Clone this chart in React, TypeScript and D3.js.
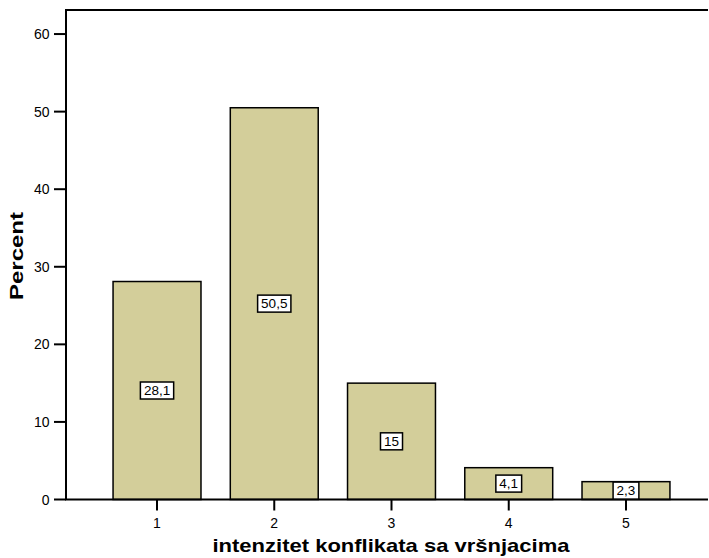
import React, { useEffect, useRef } from "react";
import * as d3 from "d3";

const categories = ["1", "2", "3", "4", "5"];
const values = [28.1, 50.5, 15, 4.1, 2.3];
const valueLabels = ["28,1", "50,5", "15", "4,1", "2,3"];
const yTicks = [0, 10, 20, 30, 40, 50, 60];

const W = 709;
const H = 558;

export default function App() {
  const ref = useRef<SVGSVGElement | null>(null);

  useEffect(() => {
    const svg = d3.select(ref.current);
    svg.selectAll("*").remove();
    const left = 66, right = 708, top = 10, bottom = 499.5;
    const font = "Liberation Sans, Arial, sans-serif";

    const y = d3.scaleLinear().domain([0, 63.1]).range([bottom, top]);
    const x = d3.scaleBand<string>().domain(categories).range([98.4, 684.6]).paddingInner(0.25).paddingOuter(0.125);

    // bars
    svg.selectAll("rect.bar").data(values).enter().append("rect")
      .attr("x", (_, i) => x(categories[i])!)
      .attr("y", d => y(d))
      .attr("width", x.bandwidth())
      .attr("height", d => bottom - y(d))
      .attr("fill", "#d3ce9a")
      .attr("stroke", "#000")
      .attr("stroke-width", 1.5);

    // frame
    svg.append("path")
      .attr("d", `M${right},${top}H${left}V${bottom}H${right}`)
      .attr("fill", "none").attr("stroke", "#000").attr("stroke-width", 2);

    // y ticks
    const yt = svg.append("g");
    yTicks.forEach(t => {
      yt.append("line").attr("x1", 54).attr("x2", left).attr("y1", y(t)).attr("y2", y(t))
        .attr("stroke", "#000").attr("stroke-width", 2);
      yt.append("text").attr("x", 49.5).attr("y", y(t)).attr("dy", "0.36em")
        .attr("text-anchor", "end").attr("font-family", font).attr("font-size", 14).text(String(t));
    });

    // x ticks
    categories.forEach(c => {
      const cx = x(c)! + x.bandwidth() / 2;
      svg.append("line").attr("x1", cx).attr("x2", cx).attr("y1", bottom).attr("y2", bottom + 11)
        .attr("stroke", "#000").attr("stroke-width", 2);
      svg.append("text").attr("x", cx).attr("y", bottom + 28.5).attr("text-anchor", "middle")
        .attr("font-family", font).attr("font-size", 14).text(c);
    });

    // value labels
    values.forEach((v, i) => {
      const cx = x(categories[i])! + x.bandwidth() / 2;
      const cy = y(v / 2);
      const g = svg.append("g");
      const txt = g.append("text").attr("x", cx).attr("y", cy).attr("dy", "0.36em")
        .attr("text-anchor", "middle").attr("font-family", font).attr("font-size", 13.5).text(valueLabels[i]);
      const bb = (txt.node() as SVGTextElement).getBBox();
      g.insert("rect", "text")
        .attr("x", cx - bb.width / 2 - 3.5).attr("y", cy - 8.5)
        .attr("width", bb.width + 7).attr("height", 17)
        .attr("fill", "#fff").attr("stroke", "#000").attr("stroke-width", 1.5);
    });

    // axis titles
    svg.append("text").attr("x", 391).attr("y", 551.5).attr("text-anchor", "middle")
      .attr("font-family", font).attr("font-weight", "bold").attr("font-size", 19)
      .attr("textLength", 357).attr("lengthAdjust", "spacingAndGlyphs")
      .text("intenzitet konflikata sa vršnjacima");
    svg.append("text").attr("transform", `translate(23,256) rotate(-90)`).attr("text-anchor", "middle")
      .attr("font-family", font).attr("font-weight", "bold").attr("font-size", 19)
      .attr("textLength", 88).attr("lengthAdjust", "spacingAndGlyphs")
      .text("Percent");
  }, []);

  return (
    <svg ref={ref} width={W} height={H} style={{ position: "absolute", left: 0, top: 0, background: "#fff" }} />
  );
}
